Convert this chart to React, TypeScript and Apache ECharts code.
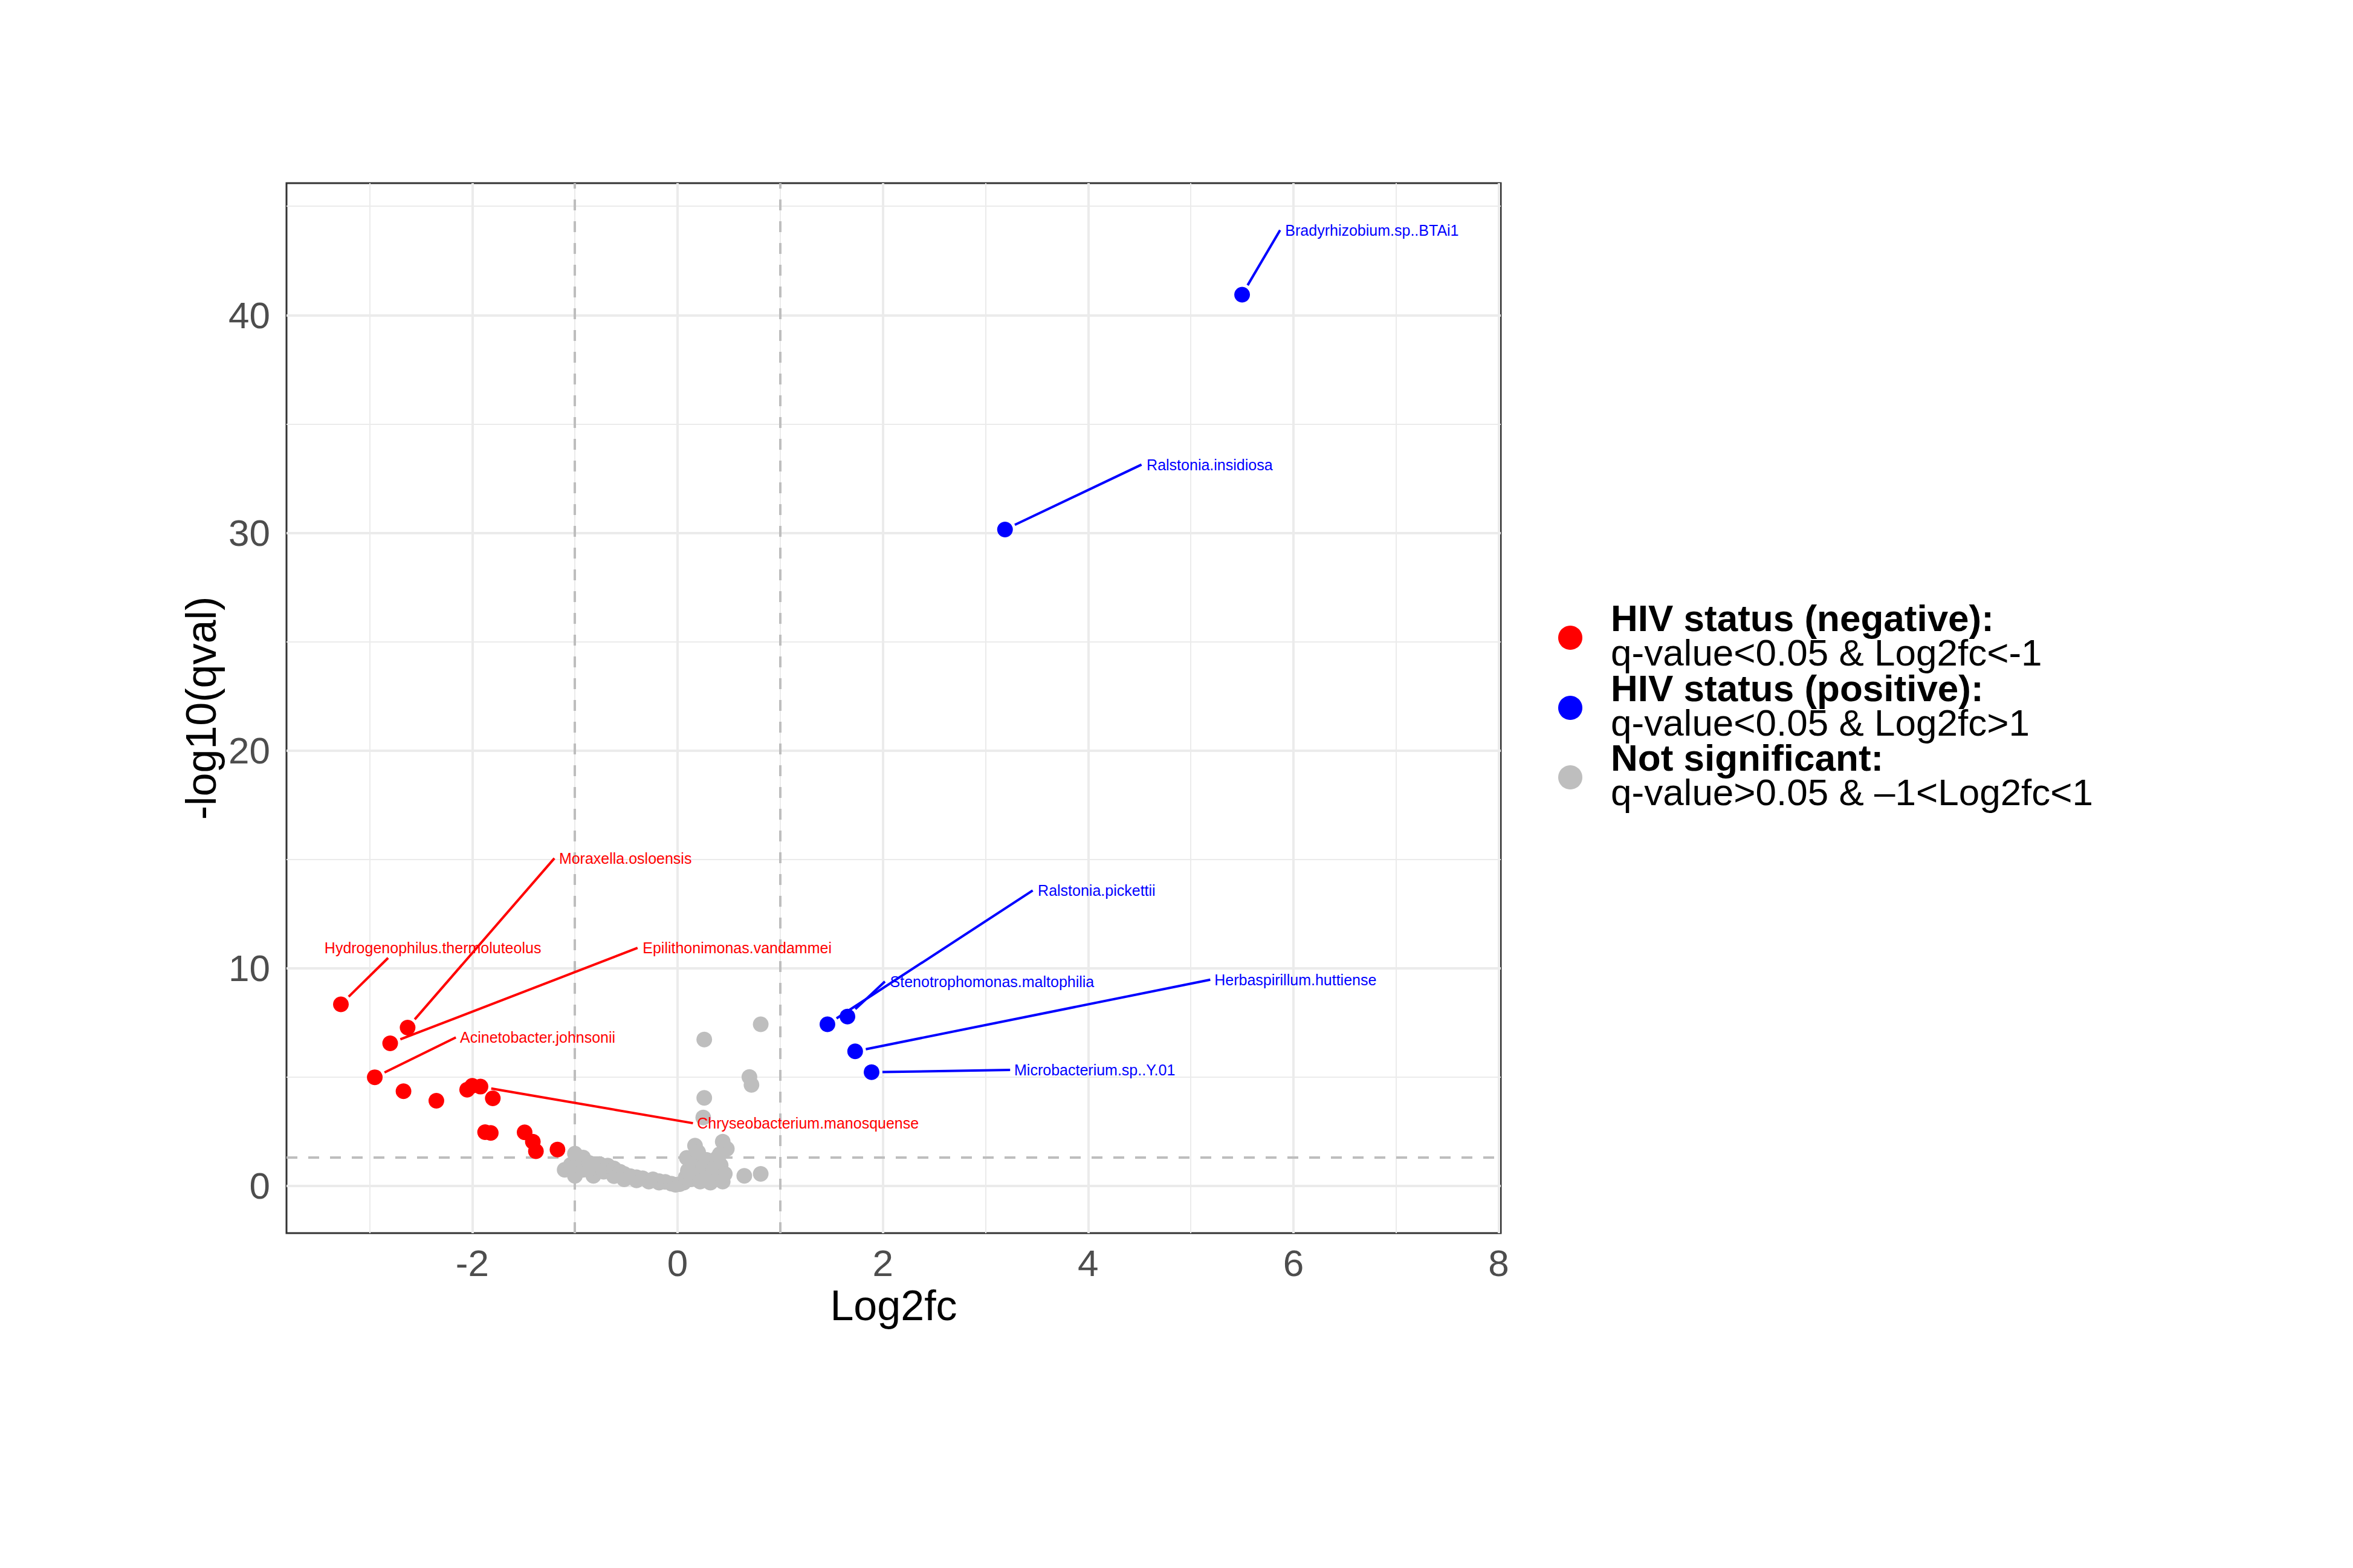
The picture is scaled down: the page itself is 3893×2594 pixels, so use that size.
import React, { useEffect, useRef } from "react";
import * as echarts from "echarts";

// ---------- data ----------
// HIV negative-enriched (q<0.05 & Log2fc<-1)
const negX = [-3.28, -2.63, -2.8, -2.95, -2.67, -2.35, -2.05, -2.0, -1.92, -1.8, -1.875, -1.82, -1.49, -1.41, -1.38, -1.17];
const negY = [8.34, 7.27, 6.55, 4.99, 4.35, 3.91, 4.42, 4.6, 4.56, 4.02, 2.47, 2.43, 2.46, 2.03, 1.59, 1.67];

// HIV positive-enriched (q<0.05 & Log2fc>1)
const posX = [1.46, 1.655, 1.73, 1.89, 3.19, 5.5];
const posY = [7.42, 7.78, 6.18, 5.22, 30.15, 40.94];

// not significant
const nsX = [
  0.81, 0.26, 0.7, 0.72, 0.26, 0.25, 0.65, 0.81,
  -1.1, -1.04, -1.0, -1.0, -0.97, -0.92, -0.92, -0.86, -0.82, -0.82, -0.76, -0.72, -0.68, -0.62, -0.62, -0.56,
  -0.52, -0.52, -0.46, -0.4, -0.4, -0.34, -0.28, -0.24, -0.18, -0.18, -0.12, -0.06, -0.02, 0.02,
  0.06, 0.08, 0.1, 0.09, 0.15, 0.17, 0.2, 0.13, 0.18, 0.22, 0.25, 0.28, 0.3, 0.32, 0.35, 0.38, 0.4, 0.42,
  0.44, 0.48, 0.46, 0.44, 0.41,
];
const nsY = [
  7.42, 6.72, 5.0, 4.64, 4.04, 3.14, 0.46, 0.55,
  0.74, 0.97, 1.48, 0.46, 1.2, 0.74, 1.3, 1.05, 0.46, 0.85, 1.0, 0.65, 0.93, 0.45, 0.8, 0.65,
  0.3, 0.55, 0.45, 0.25, 0.4, 0.35, 0.2, 0.3, 0.15, 0.22, 0.18, 0.1, 0.05, 0.08,
  0.15, 0.4, 0.7, 1.29, 1.05, 1.85, 1.55, 0.3, 0.6, 0.2, 0.9, 1.2, 0.45, 0.15, 0.75, 1.25, 0.35, 0.95,
  2.03, 1.7, 0.55, 0.2, 1.45,
];

// axes
const xTicks = [-2, 0, 2, 4, 6, 8];
const yTicks = [0, 10, 20, 30, 40];
const xMinorGrid = [-3, -1, 1, 3, 5, 7];
const yMinorGrid = [5, 15, 25, 35, 45];
const fcThresholds = [-1, 1];
const qThresholds = [1.30103];

// labelled taxa
const labelNames = [
  "Bradyrhizobium.sp..BTAi1",
  "Ralstonia.insidiosa",
  "Ralstonia.pickettii",
  "Stenotrophomonas.maltophilia",
  "Herbaspirillum.huttiense",
  "Microbacterium.sp..Y.01",
  "Moraxella.osloensis",
  "Hydrogenophilus.thermoluteolus",
  "Epilithonimonas.vandammei",
  "Acinetobacter.johnsonii",
  "Chryseobacterium.manosquense",
];
const labelGroup = ["pos", "pos", "pos", "pos", "pos", "pos", "neg", "neg", "neg", "neg", "neg"];
const labelPointIndex = [5, 4, 0, 1, 2, 3, 1, 0, 2, 3, 8];
const labelTextX = [5.92, 4.57, 3.51, 2.07, 5.23, 3.28, -1.155, -3.44, -0.34, -2.12, 0.19];
const labelTextY = [43.9, 33.13, 13.57, 9.39, 9.47, 5.33, 15.05, 10.93, 10.93, 6.82, 2.87];
const labelEndX = [5.87, 4.52, 3.46, 2.02, 5.19, 3.24, -1.2, -2.82, -0.39, -2.16, 0.15];
const labelEndY = [43.9, 33.13, 13.57, 9.39, 9.47, 5.33, 15.05, 10.47, 10.93, 6.82, 2.88];

const legendTitles = ["HIV status (negative):", "HIV status (positive):", "Not significant:"];
const legendConditions = ["q-value<0.05 & Log2fc<-1", "q-value<0.05 & Log2fc>1", "q-value>0.05 & \u20131<Log2fc<1"];

// ---------- styling ----------
const RED = "#FF0000";
const BLUE = "#0000FF";
const GREY = "#BEBEBE";
const legendColors = [RED, BLUE, GREY];
const FONT = "'Liberation Sans', Arial, Helvetica, sans-serif";

const GRID = { left: 474, top: 303, width: 2009, height: 1737 };

function buildOption() {
  const zip = (xs: number[], ys: number[]) => xs.map((x, i) => [x, ys[i]]);

  const annData = labelNames.map((name, i) => {
    const g = labelGroup[i];
    const px = g === "pos" ? posX[labelPointIndex[i]] : negX[labelPointIndex[i]];
    const py = g === "pos" ? posY[labelPointIndex[i]] : negY[labelPointIndex[i]];
    return { name, value: [px, py, labelEndX[i], labelEndY[i], labelTextX[i], labelTextY[i], g === "pos" ? 1 : 0] };
  });

  const gridLine = (w: number) => ({ color: "#EBEBEB", width: w, type: "solid" as const });

  const legendGraphics: any[] = [];
  const legendCy = [1055, 1171, 1286];
  const textCy = [1051, 1167, 1282];
  legendTitles.forEach((t, i) => {
    legendGraphics.push({
      type: "circle",
      shape: { cx: 2598, cy: legendCy[i], r: 20 },
      style: { fill: legendColors[i] },
    });
    legendGraphics.push({
      type: "text",
      x: 2665,
      y: textCy[i],
      style: {
        text: `{b|${t}}\n{n|${legendConditions[i]}}`,
        fill: "#000",
        fontFamily: FONT,
        align: "left",
        verticalAlign: "middle",
        rich: {
          b: { fontSize: 62, fontWeight: "bold", lineHeight: 57, fontFamily: FONT, fill: "#000" },
          n: { fontSize: 62, lineHeight: 57, fontFamily: FONT, fill: "#000" },
        },
      },
    });
  });

  return {
    animation: false,
    backgroundColor: "#ffffff",
    grid: {
      left: GRID.left,
      top: GRID.top,
      width: GRID.width,
      height: GRID.height,
      show: true,
      borderColor: "#333333",
      borderWidth: 3,
      backgroundColor: "transparent",
      containLabel: false,
    },
    xAxis: {
      type: "value",
      min: -3.81,
      max: 8.02,
      axisLine: { show: false },
      axisTick: { show: true, customValues: xTicks, length: 13, lineStyle: { color: "#333333", width: 3 } },
      axisLabel: { customValues: xTicks, margin: 18, fontSize: 62, color: "#4D4D4D", fontFamily: FONT },
      splitLine: { show: false },
    },
    yAxis: {
      type: "value",
      min: -2.17,
      max: 46.06,
      axisLine: { show: false },
      axisTick: { show: true, customValues: yTicks, length: 13, lineStyle: { color: "#333333", width: 3 } },
      axisLabel: { customValues: yTicks, margin: 27, fontSize: 62, color: "#4D4D4D", fontFamily: FONT },
      splitLine: { show: false },
    },
    graphic: [
      {
        type: "text",
        x: GRID.left + GRID.width / 2,
        y: 2160,
        style: { text: "Log2fc", fill: "#000", fontSize: 70, fontFamily: FONT, align: "center", verticalAlign: "middle" },
      },
      {
        type: "text",
        x: 333,
        y: GRID.top + GRID.height / 2,
        rotation: Math.PI / 2,
        style: { text: "-log10(qval)", fill: "#000", fontSize: 70, fontFamily: FONT, align: "center", verticalAlign: "middle" },
      },
      ...legendGraphics,
    ],
    series: [
      {
        name: "grid",
        type: "scatter",
        data: [],
        z: 1,
        silent: true,
        markLine: {
          z: 1,
          silent: true,
          symbol: ["none", "none"],
          label: { show: false },
          animation: false,
          data: [
            ...xMinorGrid.map((v) => ({ xAxis: v, lineStyle: gridLine(2) })),
            ...yMinorGrid.map((v) => ({ yAxis: v, lineStyle: gridLine(2) })),
            ...xTicks.map((v) => ({ xAxis: v, lineStyle: gridLine(4) })),
            ...yTicks.map((v) => ({ yAxis: v, lineStyle: gridLine(4) })),
          ],
        },
      },
      {
        name: "thresholds",
        type: "scatter",
        data: [],
        z: 2,
        silent: true,
        markLine: {
          z: 2,
          silent: true,
          symbol: ["none", "none"],
          label: { show: false },
          animation: false,
          lineStyle: { color: GREY, width: 4, type: [18, 18] },
          data: [...fcThresholds.map((v) => ({ xAxis: v })), ...qThresholds.map((v) => ({ yAxis: v }))],
        },
      },
      {
        name: "Not significant",
        type: "scatter",
        z: 3,
        symbol: "circle",
        symbolSize: 26,
        itemStyle: { color: GREY, opacity: 1 },
        data: zip(nsX, nsY),
      },
      {
        name: "HIV status (negative)",
        type: "scatter",
        z: 3,
        symbol: "circle",
        symbolSize: 26,
        itemStyle: { color: RED, opacity: 1 },
        data: zip(negX, negY),
      },
      {
        name: "HIV status (positive)",
        type: "scatter",
        z: 3,
        symbol: "circle",
        symbolSize: 26,
        itemStyle: { color: BLUE, opacity: 1 },
        data: zip(posX, posY),
      },
      {
        name: "labels",
        type: "custom",
        z: 4,
        clip: false,
        silent: true,
        data: annData,
        renderItem: (params: any, api: any) => {
          const p = api.coord([api.value(0), api.value(1)]);
          const e = api.coord([api.value(2), api.value(3)]);
          const t = api.coord([api.value(4), api.value(5)]);
          const color = api.value(6) === 1 ? BLUE : RED;
          const dx = e[0] - p[0];
          const dy = e[1] - p[1];
          const len = Math.sqrt(dx * dx + dy * dy) || 1;
          const pad = 18;
          const s = [p[0] + (dx / len) * pad, p[1] + (dy / len) * pad];
          return {
            type: "group",
            children: [
              {
                type: "line",
                shape: { x1: s[0], y1: s[1], x2: e[0], y2: e[1] },
                style: { stroke: color, lineWidth: 4 },
              },
              {
                type: "text",
                x: t[0],
                y: t[1],
                style: {
                  text: labelNames[params.dataIndex],
                  fill: color,
                  fontSize: 25,
                  fontFamily: FONT,
                  align: "left",
                  verticalAlign: "middle",
                },
              },
            ],
          };
        },
      },
    ],
  };
}

export default function App() {
  const ref = useRef<HTMLDivElement>(null);
  useEffect(() => {
    document.body.style.margin = "0";
    const chart = echarts.init(ref.current as HTMLDivElement, null, { renderer: "svg" });
    chart.setOption(buildOption() as any);
    return () => {
      chart.dispose();
    };
  }, []);
  return (
    <div
      ref={ref}
      style={{ position: "absolute", left: 0, top: 0, width: 3893, height: 2594, background: "#ffffff" }}
    />
  );
}
